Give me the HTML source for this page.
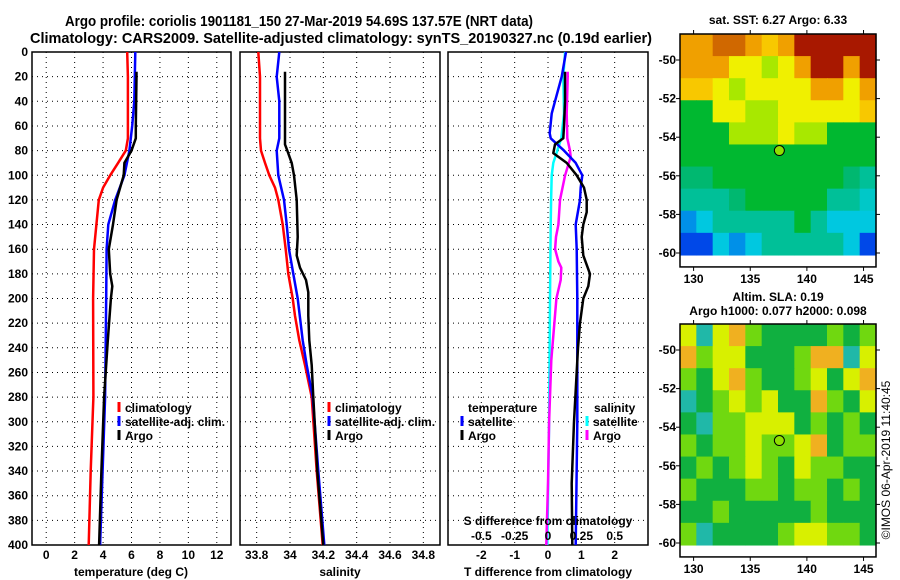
<!DOCTYPE html>
<html><head><meta charset="utf-8"><style>
html,body{margin:0;padding:0;background:#fff;}
svg{display:block;font-family:"Liberation Sans",sans-serif;font-weight:bold;}
</style></head><body>
<svg id="fig" width="900" height="580" viewBox="0 0 900 580" xmlns="http://www.w3.org/2000/svg">
<text x="65" y="26" font-size="15" textLength="468" lengthAdjust="spacingAndGlyphs">Argo profile: coriolis 1901181_150 27-Mar-2019 54.69S 137.57E (NRT data)</text>
<text x="30" y="43" font-size="15" textLength="622" lengthAdjust="spacingAndGlyphs">Climatology: CARS2009. Satellite-adjusted climatology: synTS_20190327.nc (0.19d earlier)</text>
<g id="plots"></g>
<text x="778" y="24" font-size="12" text-anchor="middle">sat. SST: 6.27 Argo: 6.33</text>
<text x="778" y="301" font-size="12" text-anchor="middle">Altim. SLA: 0.19</text>
<text x="778" y="315" font-size="12" text-anchor="middle">Argo h1000: 0.077 h2000: 0.098</text>
<text transform="translate(890,460) rotate(-90)" font-size="12" font-weight="normal" text-anchor="middle">©IMOS 06-Apr-2019 11:40:45</text>
</svg>
<script>
// ---- profile data ----
const tClimDepth=[0,20,40,60,70,80,90,100,110,120,160,200,280,340,400];
const tClimVal=[5.7,5.75,5.75,5.75,5.75,5.6,5.06,4.5,4.0,3.7,3.36,3.3,3.32,3.13,2.99];
const tSatDepth=[0,40,60,80,100,120,140,160,200,280,340,400];
const tSatVal=[6.27,6.2,6.05,5.85,5.5,4.85,4.37,4.25,4.22,4.14,3.97,3.79];
const tArgoDepth=[16,20,60,70,80,90,100,120,140,160,180,190,200,234,280,340,400];
const tArgoVal=[6.35,6.35,6.3,6.3,6.0,5.5,5.45,4.95,4.7,4.4,4.5,4.65,4.55,4.33,4.07,3.88,3.72];
const sClimDepth=[0,20,70,80,90,100,110,120,140,160,180,200,214,234,254,280,340,400];
const sClimVal=[33.81,33.82,33.82,33.826,33.85,33.876,33.91,33.93,33.956,33.974,33.99,34.016,34.03,34.056,34.09,34.13,34.16,34.196];
const sSatDepth=[0,20,40,70,80,100,120,140,160,180,200,234,254,280,340,400];
const sSatVal=[33.936,33.92,33.936,33.936,33.92,33.93,33.964,33.98,33.994,34.02,34.046,34.076,34.1,34.136,34.17,34.206];
const sArgoDepth=[16,75,80,90,100,120,150,165,175,185,195,214,234,254,280,340,400];
const sArgoVal=[33.97,33.97,33.984,34.01,34.024,34.04,34.046,34.04,34.06,34.096,34.11,34.11,34.116,34.13,34.14,34.164,34.2];
const dTSatDepth=[0,20,40,50,66,70,80,90,100,110,120,140,160,200,300,400];
const dTSatVal=[0.54,0.41,0.21,0.11,0.05,0.08,0.48,0.83,1.03,0.98,0.96,0.83,0.86,0.88,0.88,0.83];
const dTArgoDepth=[16,20,40,60,70,75,82,90,100,110,120,130,140,150,165,180,190,200,220,240,300,350,400];
const dTArgoVal=[0.51,0.51,0.51,0.48,0.46,0.21,0.16,0.56,0.86,1.08,1.16,1.16,1.06,1.01,1.06,1.26,1.21,1.06,0.96,0.9,0.78,0.71,0.73];
const dSSatDepth=[0,20,50,70,80,90,100,120,140,200,300,400];
const dSSatVal=[0.128,0.115,0.12,0.1,0.07,0.04,0.028,0.023,0.02,0.015,0.008,-0.005];
const dSArgoDepth=[16,20,50,70,80,85,100,120,140,150,160,170,175,185,200,250,300,350,400];
const dSArgoVal=[0.148,0.148,0.14,0.145,0.165,0.17,0.128,0.09,0.078,0.06,0.053,0.078,0.1,0.095,0.063,0.025,0.008,0,-0.013];
const depthTicks=[0,20,40,60,80,100,120,140,160,180,200,220,240,260,280,300,320,340,360,380,400];
const tTicks=[0,2,4,6,8,10,12];
const sTicks=[33.8,34,34.2,34.4,34.6,34.8];
const sTickLabels=["33.8","34","34.2","34.4","34.6","34.8"];
const dTTicks=[-2,-1,0,1,2];
const dSTicks=[-0.5,-0.25,0,0.25,0.5];
const dSTickLabels=["-0.5","-0.25","0","0.25","0.5"];
// ---- map data (coarse grids, rows top->bottom) ----
const sstGrid=[
[7,7,8,8,7,6.5,7,9,9,9,9,9],
[7,7,7,6,6,5,6,7,9,9,7,9],
[6.5,6.5,6,5,6,6,6,6,7,7,6,7],
[4,4,6,6,5,5,6,6,6,6,6,6.5],
[4,4,4,5,5,5,6,5,5,4,4,4],
[4,4,4,4,4,4,4,4,4,4,4,4],
[3.5,3.5,4,4,4,4,4,4,4,4,3.5,3],
[3,3,3,3.5,4,4,4,4,4,3,3,2.5],
[1.5,2,3,3,3,3,3,4,3,2,2,2],
[1,1,2,1.5,2,3,3,3,3,3,2,1]];
const slaGrid=[
[6,2,6,7,5,3,3,3,3,5,3,5],
[7,5,6,6,3,3,3,5,7,7,2,6],
[5,3,6,7,5,3,3,5,6,3,6,7],
[2,3,5,6,5,6,3,3,7,5,3,6],
[3,2,5,5,6,6,6,3,5,3,5,3],
[5,3,5,5,6,5,5,6,7,3,5,5],
[3,5,3,5,6,5,3,6,5,5,3,3],
[5,3,3,3,5,5,3,5,5,3,5,3],
[3,3,5,3,3,3,3,3,5,3,3,3],
[5,2,3,3,3,3,5,6,6,5,5,3]];
const floatLon=137.57, floatLat=-54.69;
const lonTicks=[130,135,140,145];
const latTicks=[-50,-52,-54,-56,-58,-60];

const NS="http://www.w3.org/2000/svg";
const root=document.getElementById('plots');
function mk(tag,attrs,parent){const e=document.createElementNS(NS,tag);for(const k in attrs)e.setAttribute(k,attrs[k]);(parent||root).appendChild(e);return e;}
const yD=d=>52+d*1.2325;
const Y0=52,Y1=545;

function panel(name,x0,x1,vmin,vmax){
  const g=mk('g',{});
  
  
  return {g,x0,x1,sx:v=>x0+(v-vmin)/(vmax-vmin)*(x1-x0)};
}
function grid(p,xt){
  depthTicks.forEach(d=>{if(d>0&&d<400){const l=mk('line',{x1:p.x0,x2:p.x1,y1:yD(d),y2:yD(d),stroke:'#000','stroke-width':1,'stroke-dasharray':'1,4'},p.g);}});
  xt.forEach(v=>{const x=p.sx(v);const l=mk('line',{x1:x,x2:x,y1:Y0,y2:Y1,stroke:'#000','stroke-width':1,'stroke-dasharray':'1,4'},p.g);});
  const r=mk('rect',{x:p.x0,y:Y0,width:p.x1-p.x0,height:Y1-Y0,fill:'none',stroke:'#000','stroke-width':1.5},p.g);
  
}
function line(p,ds,vs,color,name,sx){
  const f=sx||p.sx;
  const pts=ds.map((d,i)=>f(vs[i]).toFixed(1)+','+yD(d).toFixed(1)).join(' ');
  const l=mk('polyline',{points:pts,fill:'none',stroke:color,'stroke-width':2.5,'stroke-linejoin':'round'},p.g);
  
  
}
function xlabels(p,ticks,labels,ty){
  ticks.forEach((v,i)=>{const t=mk('text',{x:p.sx(v),y:ty,'font-size':12,'text-anchor':'middle'},p.g);t.textContent=labels?labels[i]:String(v);});
}
function txt(p,x,y,s,name,anchor){const t=mk('text',{x:x,y:y,'font-size':12,'text-anchor':anchor||'start'},p.g);t.textContent=s;return t;}
function legend(p,x,y,items){
  items.forEach((it,i)=>{
    const b=mk('line',{x1:x,x2:x,y1:y+i*14-10,y2:y+i*14,stroke:it[1],'stroke-width':3},p.g);
    
    txt(p,x+6,y+i*14,it[0],'legend-entry');
  });
}

// depth labels
depthTicks.forEach(d=>{const t=mk('text',{x:28,y:yD(d)+4,'font-size':12,'text-anchor':'end'});t.textContent=d;});

// panel 1 temperature
const p1=panel('temperature-panel',32,231,-1,13);
grid(p1,tTicks);
line(p1,tClimDepth,tClimVal,'#ff0000','temp-climatology-line');
line(p1,tSatDepth,tSatVal,'#0000ff','temp-satellite-line');
line(p1,tArgoDepth,tArgoVal,'#000000','temp-argo-line');
xlabels(p1,tTicks,null,559);
txt(p1,131,576,'temperature (deg C)','temperature-axis-title','middle');
legend(p1,119,412,[['climatology','#ff0000'],['satellite-adj. clim.','#0000ff'],['Argo','#000000']]);

// panel 2 salinity
const p2=panel('salinity-panel',240,440,33.7,34.9);
grid(p2,sTicks);
line(p2,sClimDepth,sClimVal,'#ff0000','sal-climatology-line');
line(p2,sSatDepth,sSatVal,'#0000ff','sal-satellite-line');
line(p2,sArgoDepth,sArgoVal,'#000000','sal-argo-line');
xlabels(p2,sTicks,sTickLabels,559);
txt(p2,340,576,'salinity','salinity-axis-title','middle');
legend(p2,329,412,[['climatology','#ff0000'],['satellite-adj. clim.','#0000ff'],['Argo','#000000']]);

// panel 3 differences
const p3=panel('difference-panel',448,648,-3,3);
const sxS=v=>548+v*133.33;
grid(p3,dTTicks);
line(p3,dSSatDepth,dSSatVal,'#00ffff','sal-diff-satellite-line',sxS);
line(p3,dSArgoDepth,dSArgoVal,'#ff00ff','sal-diff-argo-line',sxS);
line(p3,dTSatDepth,dTSatVal,'#0000ff','temp-diff-satellite-line');
line(p3,dTArgoDepth,dTArgoVal,'#000000','temp-diff-argo-line');
xlabels(p3,dTTicks,null,559);
txt(p3,548,576,'T difference from climatology','t-diff-axis-title','middle');
txt(p3,548,525,'S difference from climatology','s-diff-axis-title','middle');
dSTicks.forEach((v,i)=>{const t=txt(p3,sxS(v),540,dSTickLabels[i],'s-diff-tick-label','middle');});
txt(p3,468,412,'temperature','legend-temperature-heading');
legend(p3,462,426,[['satellite','#0000ff'],['Argo','#000000']]);
txt(p3,594,412,'salinity','legend-salinity-heading');
legend(p3,587,426,[['satellite','#00ffff'],['Argo','#ff00ff']]);

// ---- maps ----
const sstColors={1:'#0048e8',1.5:'#0090e8',2:'#00c8e0',2.5:'#00c8c8',3:'#00c098',3.5:'#00b870',4:'#00b830',5:'#a8e800',6:'#f0f000',6.5:'#f8c800',7:'#f0a000',8:'#d06800',9:'#a81800'};
const slaColors={2:'#20b8a8',3:'#10b040',5:'#70d810',6:'#d8f000',7:'#f0b020'};
function map(name,top,gridV,colors){
  const g=mk('g',{});
  
  
  const L=680,R=876,lonMin=128.8,lonMax=146.1;
  const sx=v=>L+(v-lonMin)/(lonMax-lonMin)*(R-L);
  const sy=v=>top+26+(-50-v)*19.3;
  const latBot=-60.1;
  const nr=gridV.length,nc=gridV[0].length;
  const cw=(R-L)/nc, ch=(sy(latBot)-top)/nr;
  gridV.forEach((row,r)=>row.forEach((v,c)=>{
    const cell=mk('rect',{x:(L+c*cw).toFixed(2),y:(top+r*ch).toFixed(2),width:(cw+0.6).toFixed(2),height:(ch+0.6).toFixed(2),fill:colors[v]},g);
    
    
  }));
  const fr=mk('rect',{x:L,y:top,width:R-L,height:sy(latBot)+12-top,fill:'none',stroke:'#000','stroke-width':1.5},g);
  
  const bottom=sy(latBot)+12;
  lonTicks.forEach(v=>{
    const x=sx(v);
    mk('line',{x1:x,x2:x,y1:top,y2:top-4,stroke:'#000'},g);
    mk('line',{x1:x,x2:x,y1:bottom,y2:bottom+4,stroke:'#000'},g);
    const t=mk('text',{x:x,y:bottom+16,'font-size':12,'text-anchor':'middle'},g);t.textContent=v;
    
  });
  latTicks.forEach(v=>{
    const y=sy(v);
    mk('line',{x1:L,x2:L-4,y1:y,y2:y,stroke:'#000'},g);
    mk('line',{x1:R,x2:R+4,y1:y,y2:y,stroke:'#000'},g);
    const t=mk('text',{x:L-4,y:y+4,'font-size':12,'text-anchor':'end'},g);t.textContent=v;
    
  });
  const m=mk('circle',{cx:sx(floatLon),cy:sy(floatLat),r:5,fill:'#90e000',stroke:'#000','stroke-width':1},g);
  
}
map('sst-map',34,sstGrid,sstColors);
map('sla-map',324,slaGrid,slaColors);
</script>
</body></html>
